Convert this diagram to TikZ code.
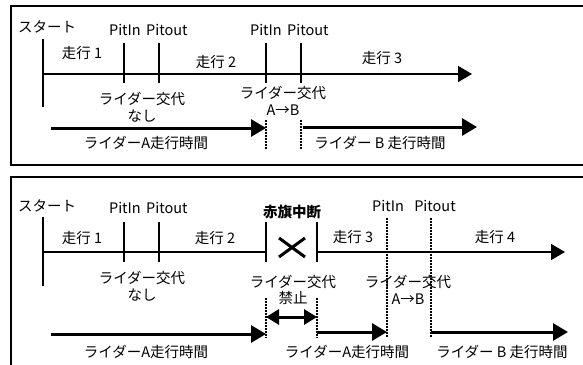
\documentclass[tikz,border=0pt]{standalone}
\usepackage{fontspec}
\setmainfont{Noto Sans CJK JP}
\usetikzlibrary{arrows.meta}
\begin{document}
\begin{tikzpicture}[x=1pt,y=-1pt,
  frm/.style={draw,line width=1.3pt},
  tickln/.style={line width=2pt},
  axisln/.style={line width=1.5pt},
  axisarr/.style={line width=1.5pt,-{Triangle[length=14pt,width=16pt]}},
  runarr/.style={line width=3pt,-{Triangle[length=15pt,width=17pt]}},
  dblarr/.style={line width=3pt,{Triangle[length=13pt,width=15pt]}-{Triangle[length=13pt,width=15pt]}},
  dotln/.style={line width=1.3pt,dash pattern=on 1.5pt off 1.5pt},
  crossln/.style={line width=3pt},
  lbl/.style={font=\fontsize{14.5}{16.5}\selectfont,inner sep=0pt,align=center},
  boldlbl/.style={lbl,font=\fontsize{14.5}{16.5}\selectfont\bfseries}]
\useasboundingbox (0,0) rectangle (583,364);
\clip (0,0) rectangle (583,364);
% frames
\draw[frm] (11,6) rectangle (600,165);
\draw[frm] (11,177) rectangle (600,380);

% ================= top panel =================
\coordinate (s1a) at (43,39); \coordinate (s1b) at (43,107);
\coordinate (ax1s) at (43,74); \coordinate (ax1e) at (472,74);
\draw[tickln] (s1a) -- (s1b);
\draw[axisarr] (ax1s) -- (ax1e);
\foreach \n/\x in {p1/124,q1/159,p2/266,q2/301}{
  \coordinate (\n a) at (\x,43); \coordinate (\n b) at (\x,83);
  \draw[tickln] (\n a) -- (\n b);
}
\node[lbl] (tstart) at (47,27) {スタート};
\node[lbl,anchor=east] (tpin1) at (141,30) {PitIn};
\node[lbl,anchor=west] (tpout1) at (146,30) {Pitout};
\node[lbl,anchor=east] (tpin2) at (282,30) {PitIn};
\node[lbl,anchor=west] (tpout2) at (287,30) {Pitout};
\node[lbl] (trun1) at (82,53) {走行 1};
\node[lbl] (trun2) at (216,62) {走行 2};
\node[lbl] (trun3) at (382,58) {走行 3};
\node[lbl] (tch1) at (142,107) {ライダー交代\\なし};
\node[lbl] (tch2) at (283,101) {ライダー交代\\A→B};
\coordinate (d1a) at (266,120); \coordinate (d1b) at (266,150);
\coordinate (d2a) at (301,120); \coordinate (d2b) at (301,150);
\draw[dotln] (d1a) -- (d1b);
\draw[dotln] (d2a) -- (d2b);
\coordinate (ra1s) at (51,128); \coordinate (ra1e) at (266,128);
\coordinate (rb1s) at (303,127); \coordinate (rb1e) at (477,127);
\draw[runarr] (ra1s) -- (ra1e);
\draw[runarr] (rb1s) -- (rb1e);
\node[lbl] (tA1) at (146,143) {ライダーA走行時間};
\node[lbl] (tB1) at (380,143) {ライダー B 走行時間};

% ================= bottom panel =================
\coordinate (s2a) at (43,217); \coordinate (s2b) at (43,286);
\draw[tickln] (s2a) -- (s2b);
\coordinate (ax2s) at (43,252); \coordinate (ax2e) at (266,252);
\draw[axisln] (ax2s) -- (ax2e);
\coordinate (ax3s) at (317,252); \coordinate (ax3e) at (565,252);
\draw[axisarr] (ax3s) -- (ax3e);
\foreach \n/\x in {p3/124,q3/159,r3/266,r4/317}{
  \coordinate (\n a) at (\x,222); \coordinate (\n b) at (\x,262);
  \draw[tickln] (\n a) -- (\n b);
}
\coordinate (xa) at (279,238); \coordinate (xb) at (305,257);
\coordinate (xc) at (279,257); \coordinate (xd) at (305,238);
\draw[crossln] (xa) -- (xb);
\draw[crossln] (xc) -- (xd);
\node[lbl] (bstart) at (47,206) {スタート};
\node[lbl,anchor=east] (bpin1) at (141,208) {PitIn};
\node[lbl,anchor=west] (bpout1) at (146,208) {Pitout};
\node[boldlbl] (bred) at (292,212) {赤旗中断};
\node[lbl] (bpin2) at (388,206) {PitIn};
\node[lbl] (bpout2) at (435,206) {Pitout};
\node[lbl] (brun1) at (82,238) {走行 1};
\node[lbl] (brun2) at (215,238) {走行 2};
\node[lbl] (brun3) at (353,237) {走行 3};
\node[lbl] (brun4) at (495,237) {走行 4};
\node[lbl] (bch1) at (142,286) {ライダー交代\\なし};
\node[lbl] (bch2) at (293,290) {ライダー交代\\禁止};
\node[lbl] (bch3) at (408,290) {ライダー交代\\A→B};
\coordinate (d3a) at (387,218); \coordinate (d3b) at (387,337);
\coordinate (d4a) at (431,218); \coordinate (d4b) at (431,337);
\draw[dotln] (d3a) -- (d3b);
\draw[dotln] (d4a) -- (d4b);
\coordinate (d5a) at (266,298); \coordinate (d5b) at (266,338);
\coordinate (d6a) at (317,298); \coordinate (d6b) at (317,338);
\draw[dotln] (d5a) -- (d5b);
\draw[dotln] (d6a) -- (d6b);
\coordinate (dbs) at (266,317); \coordinate (dbe) at (317,317);
\draw[dblarr] (dbs) -- (dbe);
\coordinate (ra2s) at (51,334); \coordinate (ra2e) at (266,334);
\coordinate (ra3s) at (317,332); \coordinate (ra3e) at (387,332);
\coordinate (rb2s) at (431,332); \coordinate (rb2e) at (568,332);
\draw[runarr] (ra2s) -- (ra2e);
\draw[runarr] (ra3s) -- (ra3e);
\draw[runarr] (rb2s) -- (rb2e);
\node[lbl] (tA2) at (146,352) {ライダーA走行時間};
\node[lbl] (tA3) at (347,352) {ライダーA走行時間};
\node[lbl] (tB2) at (502,352) {ライダー B 走行時間};
\end{tikzpicture}
\end{document}
